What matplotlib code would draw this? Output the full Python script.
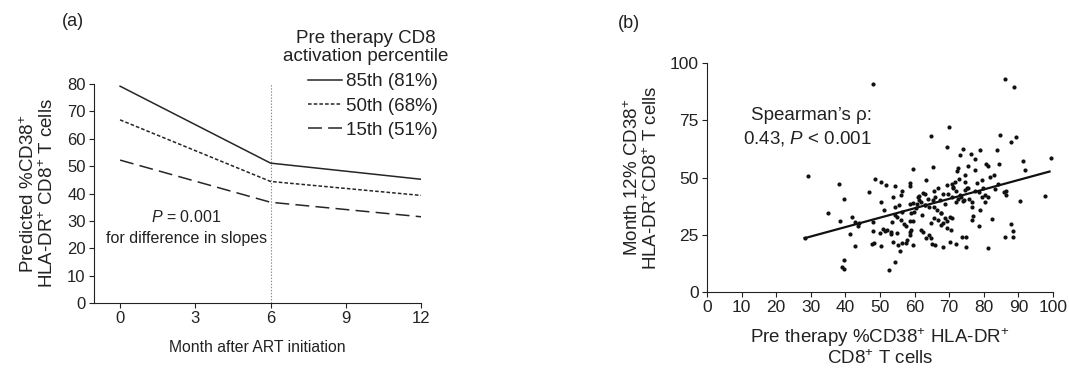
import matplotlib
matplotlib.use("Agg")
import matplotlib.pyplot as plt
import numpy as np

plt.rcParams['font.family'] = ['Liberation Sans', 'DejaVu Sans']
plt.rcParams['mathtext.fontset'] = 'custom'
plt.rcParams['mathtext.rm'] = 'Liberation Sans'
plt.rcParams['mathtext.it'] = 'Liberation Sans:italic'
plt.rcParams['mathtext.bf'] = 'Liberation Sans:bold'
plt.rcParams['lines.scale_dashes'] = False

TXT = '#222222'

# ---------------- Panel (a) data ----------------
months = [0, 6, 12]
p85 = [79.2, 51.1, 45.2]
p50 = [66.9, 44.4, 39.3]
p15 = [52.2, 36.8, 31.5]
series_labels = ['85th (81%)', '50th (68%)', '15th (51%)']
legend_title = 'Pre therapy CD8\nactivation percentile'
a_xticks = [0, 3, 6, 9, 12]
a_yticks = [0, 10, 20, 30, 40, 50, 60, 70, 80]

# ---------------- Panel (b) data ----------------
pre_x = [47.9, 86.0, 88.8, 64.6, 70.0, 84.7, 89.2, 87.8, 69.3, 74.1, 79.0, 83.9, 73.1, 76.2,
         77.5, 99.3, 91.3, 91.9, 80.7, 81.2, 84.5, 72.6, 75.3, 74.6, 65.3, 59.6, 63.3, 72.3,
         77.5, 81.9, 82.9, 79.5, 29.3, 38.1, 46.7, 48.5, 50.4, 51.6, 54.3, 56.3, 58.6, 58.7,
         65.6, 66.8, 69.4, 70.9, 71.6, 72.8, 74.6, 75.1, 77.5, 78.5, 80.4, 81.1, 79.5, 83.2,
         85.8, 86.3, 97.7, 90.5, 39.6, 35.0, 38.4, 42.0, 42.8, 43.8, 43.5, 41.2, 42.8, 48.0,
         48.0, 47.7, 48.4, 50.4, 50.3, 51.3, 54.3, 55.0, 53.6, 51.4, 52.1, 53.1, 55.0, 57.5,
         56.0, 58.7, 59.4, 58.9, 58.6, 61.9, 62.4, 63.3, 64.3, 64.6, 65.1, 65.8, 68.2, 70.2,
         72.1, 73.6, 74.9, 74.8, 81.1, 86.0, 88.5, 88.5, 87.8, 82.4, 78.5, 77.0, 76.5, 78.8,
         76.7, 80.3, 76.5, 74.3, 72.6, 71.9, 70.7, 69.7, 71.0, 68.2, 67.2, 65.3, 64.3, 62.9,
         61.9, 60.9, 61.4, 60.7, 59.4, 58.7, 59.9, 58.9, 56.5, 55.5, 54.2, 53.9, 56.2, 62.9,
         63.8, 62.4, 66.0, 67.7, 68.7, 68.2, 67.6, 69.5, 70.2, 70.9, 70.5, 69.5, 66.8, 65.6,
         64.8, 67.6, 73.3, 74.1, 74.6, 75.3, 71.9, 65.6, 58.6, 59.6, 57.9, 56.5, 55.3, 55.8,
         54.3, 52.7, 39.6, 39.1, 39.7, 28.2, 50.1, 50.9, 53.1, 53.9, 57.5, 60.4, 61.2, 63.0,
         66.5, 68.9, 73.0, 75.8, 77.9, 79.8, 84.0, 86.5, 71.2, 62.0, 57.0]
m12_y = [90.7, 93.2, 89.6, 68.3, 71.9, 68.5, 67.9, 65.7, 63.5, 62.5, 61.8, 61.8, 59.9, 60.3,
         58.2, 58.3, 57.0, 53.4, 56.0, 55.0, 56.0, 54.3, 55.0, 50.9, 54.6, 53.8, 48.8, 52.8,
         53.1, 50.2, 50.9, 48.8, 50.7, 47.0, 43.6, 49.2, 48.0, 46.6, 46.3, 44.0, 47.8, 46.2,
         44.1, 45.6, 46.9, 47.3, 48.0, 49.2, 48.0, 45.2, 44.1, 43.7, 42.3, 41.5, 41.5, 44.9,
         43.7, 42.3, 41.8, 39.7, 40.5, 34.6, 31.1, 32.6, 30.7, 30.0, 28.8, 25.2, 20.1, 30.7,
         26.6, 21.0, 21.3, 20.0, 39.2, 35.7, 33.6, 32.9, 30.7, 26.8, 27.2, 26.3, 25.9, 28.8,
         31.4, 31.1, 31.0, 27.1, 26.2, 27.1, 26.0, 23.7, 24.9, 23.4, 20.8, 20.5, 19.5, 22.0,
         20.8, 24.2, 24.2, 19.8, 19.4, 23.9, 23.9, 26.6, 29.7, 31.7, 28.9, 33.1, 31.4, 35.7,
         37.2, 39.4, 39.4, 40.1, 40.8, 39.4, 41.5, 43.0, 45.2, 43.0, 40.1, 40.1, 37.2, 37.9,
         39.4, 41.5, 40.1, 38.6, 38.9, 38.4, 35.0, 34.3, 35.0, 38.2, 37.2, 41.5, 42.5, 42.7,
         40.8, 43.3, 41.5, 34.3, 32.1, 30.2, 29.2, 31.1, 32.9, 32.1, 27.1, 27.8, 31.4, 32.1,
         30.0, 34.6, 41.5, 39.7, 44.6, 45.6, 44.1, 37.2, 24.9, 20.5, 22.7, 21.6, 20.5, 18.1,
         13.0, 9.7, 14.0, 10.7, 10.0, 23.7, 25.6, 27.5, 25.3, 22.0, 21.3, 36.5, 42.0, 38.0,
         36.0, 38.5, 42.5, 40.5, 47.5, 45.5, 47.0, 44.0, 46.0, 33.5, 29.5]
fit_x = [28.2, 99.0]
fit_y = [23.5, 52.6]
b_xticks = [0, 10, 20, 30, 40, 50, 60, 70, 80, 90, 100]
b_yticks = [0, 25, 50, 75, 100]

fig = plt.figure(figsize=(10.69, 3.69), dpi=100)

# ---------------- Panel (a) ----------------
axa = fig.add_axes([94/1069, 1 - 303/369, (421-94)/1069, (303-84)/369])
lw = 1.1
l1, = axa.plot(months, p85, color='#262626', lw=lw, linestyle='-')
l2, = axa.plot(months, p50, color='#262626', lw=lw, linestyle=(0, (2.6, 1.5)))
l3, = axa.plot(months, p15, color='#262626', lw=lw, linestyle=(0, (10, 4.5)))
axa.plot([6, 6], [0, 80], color='#8a8a8a', lw=0.8, linestyle=(0, (1.0, 1.2)), zorder=1)
axa.set_xlim(-1.04, 12)
axa.set_ylim(0, 80)
axa.set_xticks(a_xticks)
axa.set_yticks(a_yticks)
for s in ['top', 'right']:
    axa.spines[s].set_visible(False)
for s in ['left', 'bottom']:
    axa.spines[s].set_linewidth(0.8)
    axa.spines[s].set_color('#222222')
axa.tick_params(direction='out', length=3.5, width=0.8, labelsize=12, colors='#222222', pad=2.5)
axa.set_xlabel('Month after ART initiation', fontsize=11.3, color=TXT, labelpad=10)
axa.set_ylabel('Predicted %CD38$^{+}$\nHLA-DR$^{+}$ CD8$^{+}$ T cells', fontsize=13.5,
               color=TXT, linespacing=1.05, labelpad=7)
axa.text(2.65, 31.5, '$\\mathit{P}$ = 0.001', ha='center', va='center', fontsize=11.5, color=TXT)
axa.text(2.65, 23.5, 'for difference in slopes', ha='center', va='center', fontsize=11.5, color=TXT)
fig.text(73/1069, 1 - 22/369, '(a)', ha='center', va='center', fontsize=13, color=TXT)

fig.text(366/1069, 1 - 47.5/369, legend_title, ha='center', va='center', multialignment='center',
         fontsize=13.5, color=TXT, linespacing=1.12)
leg = fig.legend([l1, l2, l3], series_labels,
                 loc='center left', bbox_to_anchor=(308/1069, 1 - 106/369), frameon=False,
                 fontsize=13.5, handlelength=1.8, handletextpad=0.2,
                 labelspacing=0.38, borderpad=0.0, borderaxespad=0.0)
for t in leg.get_texts():
    t.set_color(TXT)

# ---------------- Panel (b) ----------------
axb = fig.add_axes([707/1069, 1 - 292/369, (1053-707)/1069, (292-63)/369])
axb.scatter(pre_x, m12_y, s=9, color='#111111', linewidths=0, clip_on=False, zorder=3)
axb.plot(fit_x, fit_y, color='#111111', lw=1.6, zorder=4)
axb.set_xlim(0, 100)
axb.set_ylim(0, 100)
axb.set_xticks(b_xticks)
axb.set_yticks(b_yticks)
for s in ['top', 'right']:
    axb.spines[s].set_visible(False)
for s in ['left', 'bottom']:
    axb.spines[s].set_linewidth(0.8)
    axb.spines[s].set_color('#222222')
axb.tick_params(direction='out', length=3.5, width=0.8, labelsize=12.5, colors='#222222', pad=2.5)
axb.set_xlabel('Pre therapy %CD38$^{+}$ HLA-DR$^{+}$\nCD8$^{+}$ T cells', fontsize=13.5,
               color=TXT, linespacing=1.0, labelpad=8)
axb.set_ylabel('Month 12% CD38$^{+}$\nHLA-DR$^{+}$CD8$^{+}$ T cells', fontsize=13.5,
               color=TXT, linespacing=1.05, labelpad=6)
axb.text(47.7, 76.9, 'Spearman\u2019s \u03c1:', ha='right', va='center', fontsize=13.5, color=TXT)
axb.text(47.7, 67.2, '0.43, $\\mathit{P}$ < 0.001', ha='right', va='center', fontsize=13.5, color=TXT)
fig.text(629/1069, 1 - 24/369, '(b)', ha='center', va='center', fontsize=13, color=TXT)

fig.savefig('out.png', dpi=100)
